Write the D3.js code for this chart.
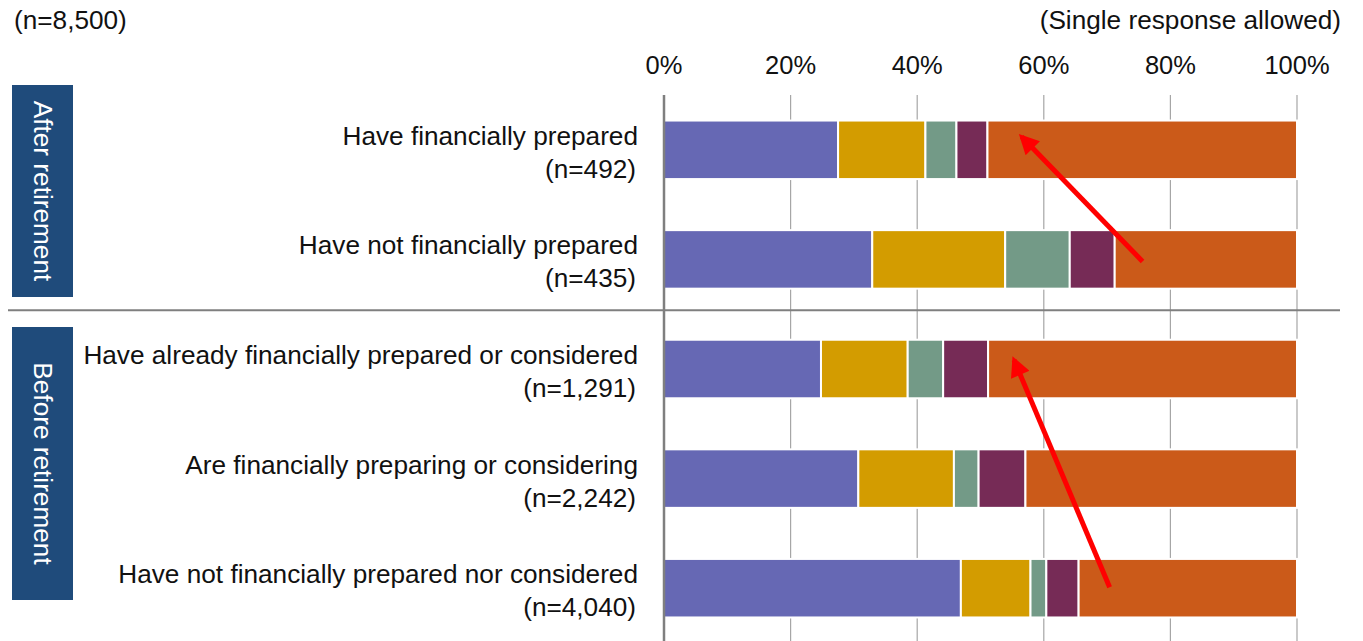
<!DOCTYPE html>
<html>
<head>
<meta charset="utf-8">
<script src="https://cdn.jsdelivr.net/npm/d3@7"></script>
<style>
  body { margin: 0; background: #fff; }
  svg { display: block; font-family: "Liberation Sans", Arial, sans-serif; }
</style>
</head>
<body>
<svg id="chart" width="1363" height="641"></svg>
<script>
// rows, top to bottom
var labels = ["Have financially prepared", "Have not financially prepared",
  "Have already financially prepared or considered", "Are financially preparing or considering",
  "Have not financially prepared nor considered"];
var counts = ["(n=492)", "(n=435)", "(n=1,291)", "(n=2,242)", "(n=4,040)"];

// shares in %, one array per answer
var seriesA = [27.5, 32.9, 24.8, 30.7, 46.9];
var seriesB = [13.8, 21.0, 13.7, 15.1, 11.0];
var seriesC = [4.9, 10.2, 5.6, 3.9, 2.5];
var seriesD = [4.9, 7.1, 7.1, 7.4, 5.1];
var seriesE = [48.9, 28.8, 48.8, 42.9, 34.5];
var colors = ["#6668b4", "#d39c00", "#739a87", "#762b56", "#cb5a19"];

var ticks = [0, 20, 40, 60, 80, 100];
var groups = ["After retirement", "Before retirement"];

var fs = 26.2;
var svg = d3.select("#chart");
var x = d3.scaleLinear().domain([0, 100]).range([664, 1297]);
var y = d3.scaleBand().domain(d3.range(labels.length)).range([95, 643])
  .paddingInner(0.466).paddingOuter(0.233);

// gridlines
svg.append("g").selectAll("line").data(ticks.slice(1)).enter().append("line")
  .attr("x1", d => x(d)).attr("x2", d => x(d))
  .attr("y1", 95).attr("y2", 641)
  .attr("stroke", "#a6a6a6").attr("stroke-width", 1.2);

// stacked bars
var all = [seriesA, seriesB, seriesC, seriesD, seriesE];
var rows = labels.map(function(l, i) {
  var o = { i: i };
  all.forEach(function(s, k) { o["s" + k] = s[i]; });
  return o;
});
var stack = d3.stack().keys(["s0", "s1", "s2", "s3", "s4"])(rows);

svg.append("g").selectAll("g").data(stack).enter().append("g")
  .attr("fill", (d, k) => colors[k])
  .selectAll("rect").data(d => d).enter().append("rect")
    .attr("x", d => x(d[0]))
    .attr("width", d => x(d[1]) - x(d[0]))
    .attr("y", d => y(d.data.i))
    .attr("height", y.bandwidth())
    .attr("stroke", "#fff").attr("stroke-width", 2);

// axis line and group separator
svg.append("line").attr("x1", x(0)).attr("x2", x(0)).attr("y1", 95).attr("y2", 641)
  .attr("stroke", "#7f7f7f").attr("stroke-width", 2.5);
var sepY = (y(1) + y.bandwidth() + y(2)) / 2 - 4;
svg.append("line").attr("x1", 8).attr("x2", 1340).attr("y1", sepY).attr("y2", sepY)
  .attr("stroke", "#7f7f7f").attr("stroke-width", 2);

// tick labels
svg.append("g").selectAll("text").data(ticks).enter().append("text")
  .attr("x", d => x(d)).attr("y", 74)
  .attr("text-anchor", "middle").attr("font-size", 25.5).attr("fill", "#111")
  .text(d => d + "%");

// row labels
var lab = svg.append("g").selectAll("g").data(labels).enter().append("g");
lab.append("text")
  .attr("x", 638).attr("y", (d, i) => y(i) + y.bandwidth() / 2 - 5)
  .attr("text-anchor", "end").attr("font-size", fs).attr("fill", "#111")
  .text(d => d);
lab.append("text")
  .attr("x", 636).attr("y", (d, i) => y(i) + y.bandwidth() / 2 + 28)
  .attr("text-anchor", "end").attr("font-size", fs).attr("fill", "#111")
  .text((d, i) => counts[i]);

// group boxes
var boxes = [[85, 297], [327, 600]];
groups.forEach(function(g, k) {
  var b = boxes[k];
  svg.append("rect").attr("x", 12).attr("y", b[0]).attr("width", 61).attr("height", b[1] - b[0])
    .attr("fill", "#1f4b7b");
  svg.append("text")
    .attr("transform", "translate(34," + (b[0] + b[1]) / 2 + ") rotate(90)")
    .attr("text-anchor", "middle").attr("font-size", fs).attr("fill", "#fff")
    .text(g);
});

// header texts
svg.append("text").attr("x", 14).attr("y", 29).attr("font-size", fs).attr("fill", "#111")
  .text("(n=8,500)");
svg.append("text").attr("x", 1341).attr("y", 29).attr("text-anchor", "end")
  .attr("font-size", fs).attr("fill", "#111").text("(Single response allowed)");

// red arrows (from, to) as [% , row, offset from row centre]
var arrows = [
  { from: [75.6, 1, 2], to: [56.5, 0, -13] },
  { from: [70.4, 4, -1], to: [55.3, 2, -9] }
];
svg.append("defs").append("marker")
  .attr("id", "head").attr("viewBox", "0 0 10 10").attr("refX", 8).attr("refY", 5)
  .attr("markerWidth", 4.6).attr("markerHeight", 4).attr("orient", "auto")
  .attr("markerUnits", "strokeWidth")
  .append("path").attr("d", "M0,0 L10,5 L0,10 Z").attr("fill", "#ff0000");
function py(p) { return y(p[1]) + y.bandwidth() / 2 + p[2]; }
svg.append("g").selectAll("line").data(arrows).enter().append("line")
  .attr("x1", d => x(d.from[0])).attr("y1", d => py(d.from))
  .attr("x2", d => x(d.to[0])).attr("y2", d => py(d.to))
  .attr("stroke", "#ff0000").attr("stroke-width", 5)
  .attr("marker-end", "url(#head)");
</script>
</body>
</html>
